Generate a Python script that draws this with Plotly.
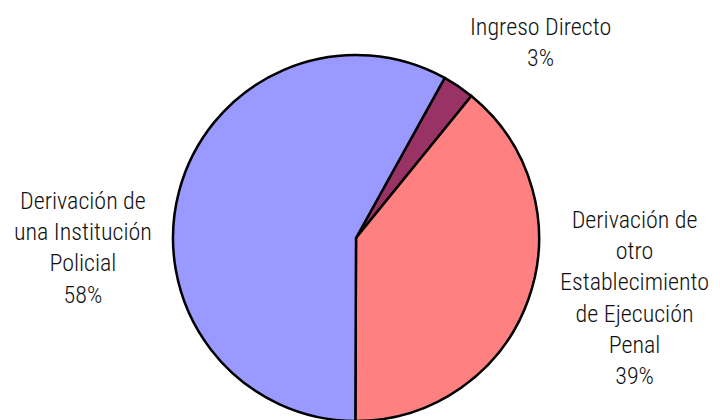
import plotly.graph_objects as go

# slice data (clockwise from the top, starting with the small slice)
labels = ["Ingreso Directo",
          "Derivación de otro Establecimiento de Ejecución Penal",
          "Derivación de una Institución Policial"]
wrapped = ["Ingreso Directo",
           "Derivación de<br>otro<br>Establecimiento<br>de Ejecución<br>Penal",
           "Derivación de<br>una Institución<br>Policial"]
values = [2.8, 39.2, 58.0]
colors = ["#993366", "#FF8080", "#9999FF"]

# label anchor points (paper coords)
label_x = [0.7389, 0.8708, 0.1035]
label_y = [0.9179, 0.3095, 0.4286]

FONT = "Roboto Condensed, Liberation Sans Narrow, Arial Narrow, sans-serif"

fig = go.Figure(go.Pie(
    labels=labels,
    values=values,
    sort=False,
    direction="clockwise",
    rotation=29,
    marker=dict(colors=colors, line=dict(color="black", width=2.5)),
    textinfo="none",
    hoverinfo="label+percent",
    showlegend=False,
    domain=dict(x=[0.22917, 0.7375], y=[0.01667, 0.8881]),
))

total = sum(values)
for name, v, x, y in zip(wrapped, values, label_x, label_y):
    fig.add_annotation(
        x=x, y=y, xref="paper", yref="paper",
        text=f"{name}<br>{round(v / total * 100)}%",
        showarrow=False, align="center",
        xanchor="center", yanchor="middle",
        font=dict(family=FONT, size=24, color="#111111", weight=300),
    )

fig.update_layout(
    width=720, height=420,
    margin=dict(l=0, r=0, t=0, b=0),
    paper_bgcolor="white",
    plot_bgcolor="white",
)

fig.write_html("out.html")
